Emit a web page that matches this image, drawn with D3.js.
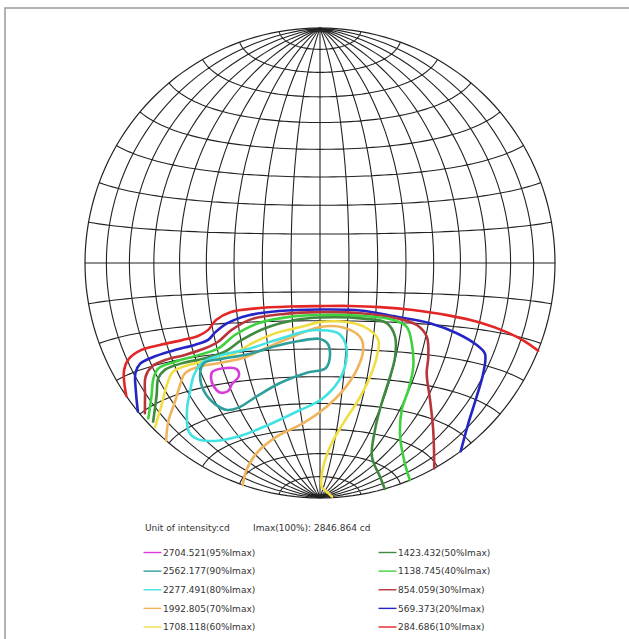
<!DOCTYPE html>
<html><head><meta charset="utf-8">
<script src="https://cdn.jsdelivr.net/npm/d3@7/dist/d3.min.js"></script>
<style>body{margin:0;background:#fff}svg{display:block}</style>
</head><body>
<svg id="chart" width="629" height="639"></svg>
<script>
// ---- data ----
const imax = 2846.864;
const levels = [2704.521, 2562.177, 2277.491, 1992.805, 1708.118, 1423.432, 1138.745, 854.059, 569.373, 284.686];
const percents = [95, 90, 80, 70, 60, 50, 40, 30, 20, 10];
const closedLevels = [95, 90, 80];
// contour lines as [C-angle (lon), gamma-latitude] in degrees
const c95 = [[-45.1,-35.6],[-40.4,-34.9],[-34.4,-35.7],[-34.3,-38.1],[-38.5,-40.6],[-41.5,-42.7],[-45.5,-42.7],[-47.0,-40.2],[-46.6,-37.5]];
const c90 = [[0,-26.4],[3.0,-28.2],[3.9,-32.5],[2.4,-36.8],[-5.8,-38.6],[-17.4,-41.9],[-29.2,-45.9],[-40.6,-49.0],[-46.5,-48.9],[-50.6,-46.1],[-52.4,-41.2],[-50.6,-35.6],[-47.1,-32.3],[-39.2,-31.7],[-27.8,-30.9],[-16.8,-28.6],[-7.9,-27.1]];
const c80 = [[0,-23.3],[6.7,-24.3],[9.7,-28.1],[10.4,-34.5],[7.8,-41.9],[0.9,-48.3],[-11.2,-52.7],[-29.5,-56.9],[-49.1,-58.5],[-65.4,-57.0],[-73.7,-53.9],[-74.1,-51.1],[-65.8,-45.2],[-59.0,-40.4],[-53.4,-35.5],[-47.4,-31.9],[-38.7,-30.4],[-27.8,-29.2],[-18.9,-27.1],[-10.4,-24.9],[-4.8,-23.6]];
const c70 = [[-90,-49.1],[-79.5,-45.8],[-68.7,-41.7],[-61.7,-37.5],[-57.0,-34.4],[-50.1,-33.2],[-41.2,-33.0],[-31.1,-32.2],[-21.2,-29.3],[-11.9,-26.1],[0,-22.2],[8.5,-22.3],[15.0,-25.5],[16.7,-30.0],[15.1,-37.3],[10.5,-44.8],[3.3,-51.2],[-9.4,-57.5],[-27.6,-61.7],[-48.2,-65.9],[-69.1,-69.2],[-90,-70.8]];
const c60 = [[-88.2,-44.8],[-76.1,-41.0],[-67.7,-36.4],[-61.8,-33.1],[-54.0,-32.1],[-43.5,-31.7],[-34.8,-30.8],[-26.0,-27.3],[-16.7,-24.2],[-6.7,-22.1],[0,-20.5],[9.7,-20.4],[17.2,-22.4],[22.0,-26.3],[22.4,-32.2],[21.2,-39.4],[18.2,-48.2],[13.1,-57.4],[7.4,-67.0],[3.2,-77.0],[4.6,-84.6],[30,-86.6],[80,-87]];
const c50 = [[-86.8,-43.5],[-75.2,-38.0],[-69.9,-33.8],[-65.1,-32.0],[-56.6,-31.2],[-46.0,-30.8],[-37.2,-29.4],[-29.6,-25.9],[-20.2,-22.3],[-9.0,-19.7],[0,-18.9],[15.6,-19.1],[24.4,-20.4],[28.2,-24.9],[29.7,-31.7],[29.7,-38.8],[29.8,-48.5],[32.5,-58.5],[42.6,-68.4],[68.5,-73.2],[90,-74]];
const c40 = [[-87.7,-42.1],[-77.5,-37.4],[-72.1,-33.4],[-67.7,-31.1],[-59.1,-30.3],[-48.4,-29.5],[-39.5,-28.1],[-31.9,-24.1],[-22.5,-20.5],[-10.2,-18.5],[0,-18.0],[15.6,-18.2],[26.6,-19.2],[32.0,-21.3],[35.1,-26.7],[38.2,-34.5],[39.7,-42.6],[41.0,-49.7],[49.4,-58.7],[69.7,-65.7],[90,-67.5]];
const c30 = [[-87.3,-40.6],[-80.7,-36.7],[-75.4,-32.3],[-70.2,-30.1],[-63.1,-29.2],[-53.9,-28.8],[-44.8,-27.6],[-38.9,-25.9],[-32.8,-22.3],[-24.8,-19.0],[-12.5,-17.5],[0,-17.0],[15.5,-17.3],[27.8,-18.6],[35.7,-20.5],[40.4,-24.1],[43.1,-30.6],[44.8,-36.1],[51.9,-44.4],[64.1,-53.0],[90,-60.9]];
const c20 = [[-90,-39.2],[-84.3,-35.1],[-79.0,-30.3],[-74.9,-28.4],[-68.3,-27.6],[-58.7,-26.9],[-48.0,-26.0],[-42.5,-24.9],[-39.4,-22.8],[-33.8,-19.9],[-26.0,-17.7],[-14.6,-16.5],[0,-16.1],[14.3,-16.3],[27.8,-18.1],[40.6,-19.6],[51.9,-22.0],[61.5,-24.7],[66.4,-26.8],[69.4,-32.3],[72.6,-39.2],[78.5,-46.6],[90,-53.2]];
const c10 = [[-90,-34.5],[-83.9,-28.7],[-78.9,-26.2],[-71.9,-24.8],[-62.9,-24.5],[-53.1,-24.1],[-46.3,-23.4],[-41.9,-21.8],[-38.1,-18.7],[-32.1,-16.3],[-22.8,-15.4],[-10.6,-15.0],[0,-14.9],[10.6,-14.8],[21.4,-15.0],[33.5,-15.6],[46.6,-16.6],[60.2,-17.9],[73.7,-19.6],[81.6,-20.7],[90,-21.9]];
const contours = [c95, c90, c80, c70, c60, c50, c40, c30, c20, c10];

// ---- styles ----
const colors = ["#d83cd8","#2f9f9b","#42e2e2","#efb45c","#f1de44","#3f8a3f","#3fd23f","#b8353b","#2525c6","#e32727"];

const svg = d3.select("#chart");
const cx = 320, cy = 263, R = 235;

// frame
svg.append("path").attr("d","M5,640 L5,8 L640,8").attr("fill","none").attr("stroke","#9a9a9a").attr("stroke-width",1.5);

const proj = d3.geoAzimuthalEqualArea()
  .rotate([0,0]).scale(R/Math.SQRT2).translate([cx,cy]).clipAngle(90).precision(0.1);
const path = d3.geoPath(proj);
const graticule = d3.geoGraticule().extent([[-180,-90],[180,90]]).step([10,10]);

svg.append("path").datum(graticule()).attr("d", path)
  .attr("fill","none").attr("stroke","#222").attr("stroke-width",1.1);
svg.append("path").datum({type:"Sphere"}).attr("d", path)
  .attr("fill","none").attr("stroke","#222").attr("stroke-width",1.2);

const lineOpen = d3.line().x(d=>proj(d)[0]).y(d=>proj(d)[1]).curve(d3.curveCatmullRom.alpha(0.5));
const lineClosed = d3.line().x(d=>proj(d)[0]).y(d=>proj(d)[1]).curve(d3.curveCatmullRomClosed.alpha(0.5));

// draw from outer (10%) to inner
for (let i = contours.length - 1; i >= 0; i--) {
  const closed = closedLevels.includes(percents[i]);
  svg.append("path").attr("d", (closed ? lineClosed : lineOpen)(contours[i]))
    .attr("fill","none").attr("stroke", colors[i]).attr("stroke-width",2.6)
    .attr("stroke-linejoin","round").attr("stroke-linecap","round");
}

// ---- legend ----
const font = "DejaVu Sans, Verdana, sans-serif";
const lg = svg.append("g").attr("font-family", font).attr("font-size", 9).attr("fill", "#333");
lg.append("text").attr("x",145).attr("y",531).text("Unit of intensity:cd");
lg.append("text").attr("x",253).attr("y",531).text("Imax(100%): " + imax.toFixed(3) + " cd");

const rowY = d3.scalePoint().domain(d3.range(5)).range([552.5, 627]);
levels.forEach((v, i) => {
  const col = Math.floor(i / 5), row = i % 5;
  const x0 = col === 0 ? 143.5 : 378.5;
  const y = rowY(row);
  lg.append("line").attr("x1", x0).attr("x2", x0 + 18).attr("y1", y).attr("y2", y)
    .attr("stroke", colors[i]).attr("stroke-width", 1.4);
  lg.append("text").attr("x", x0 + 19.5).attr("y", y + 3.2)
    .text(v.toFixed(3) + "(" + percents[i] + "%Imax)");
});
</script>
</body></html>
